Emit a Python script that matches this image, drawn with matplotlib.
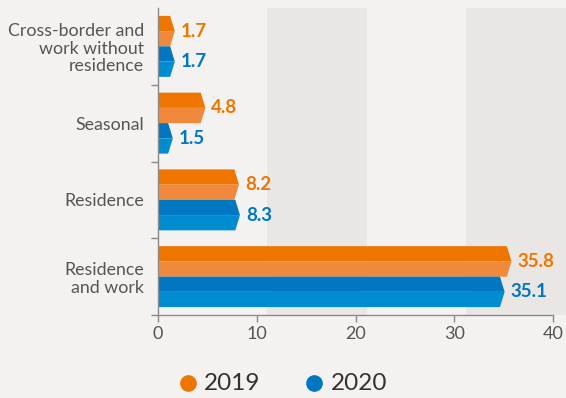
import numpy as np
import matplotlib.pyplot as plt
from matplotlib.lines import Line2D

plt.rcParams['font.family'] = ['Lato', 'DejaVu Sans']

categories = ["Cross-border and\nwork without\nresidence", "Seasonal",
              "Residence", "Residence\nand work"]
values_2019 = [1.7, 4.8, 8.2, 35.8]
values_2020 = [1.7, 1.5, 8.3, 35.1]
years = ["2019", "2020"]
x_ticks = [0, 10, 20, 30, 40]

BG = '#f3f2f0'
BAND = '#e9e6e3'
# (dark upper half, light lower half, label colour)
ORANGE = ('#ee7600', '#f1893c', '#ee7600')
BLUE = ('#0077c0', '#008cd0', '#0077c0')
TEXT = '#555555'
TIP = 0.47      # length of the pointed end, data units
HALF = 0.397    # height of one bar, in category units


def arrow_bar(ax, v, y_top, y_bot, colors):
    """Two-tone bar with a chevron tip at the value."""
    y_mid = (y_top + y_bot) / 2
    dark, light, _ = colors
    tip = min(TIP, v)
    ax.fill([0, v - tip, v, 0], [y_top, y_top, y_mid, y_mid],
            color=dark, lw=0, zorder=3)
    ax.fill([0, v, v - tip, 0], [y_mid, y_mid, y_bot, y_bot],
            color=light, lw=0, zorder=3)


fig = plt.figure(figsize=(5.66, 3.98), dpi=100, facecolor=BG)
ax = fig.add_axes([158 / 566, 1 - 315 / 398, 408 / 566, 307 / 398])
ax.set_facecolor(BG)

n = len(categories)
centers = np.arange(n)[::-1] + 0.5

for c, v19, v20 in zip(centers, values_2019, values_2020):
    arrow_bar(ax, v19, c + HALF, c, ORANGE)
    arrow_bar(ax, v20, c, c - HALF, BLUE)
    ax.text(v19 + 0.6, c + HALF / 2, f"{v19:.1f}", color=ORANGE[2],
            fontsize=13.5, fontweight='bold', va='center', ha='left', zorder=4)
    ax.text(v20 + 0.6, c - HALF / 2, f"{v20:.1f}", color=BLUE[2],
            fontsize=13.5, fontweight='bold', va='center', ha='left', zorder=4)

# alternating shaded bands behind the bars
ax.axvspan(11, 21.2, color=BAND, lw=0, zorder=0)
ax.axvspan(31.2, 42, color=BAND, lw=0, zorder=0)

ax.set_xlim(0, 408 / 9.875)
ax.set_ylim(0, n)
ax.set_xticks(x_ticks)
ax.set_xticklabels([str(t) for t in x_ticks])

ax.set_yticks(centers)
ax.set_yticklabels(categories, ha='right', linespacing=1.12)
ax.set_yticks(np.arange(n), minor=True)
ax.tick_params(axis='y', which='major', length=0, pad=10, labelsize=12.8,
               labelcolor=TEXT)
ax.tick_params(axis='y', which='minor', length=5, color='#8a8a8a', width=1)
ax.tick_params(axis='x', length=5, color='#8a8a8a', width=1, pad=3,
               labelsize=13, labelcolor=TEXT)

for s in ('top', 'right'):
    ax.spines[s].set_visible(False)
for s in ('left', 'bottom'):
    ax.spines[s].set_color('#8a8a8a')
    ax.spines[s].set_linewidth(1)
ax.spines['bottom'].set_bounds(0, 40)
ax.spines['left'].set_zorder(5)

# legend: coloured dot followed by the year
legend_y = 1 - 383 / 398
for (dot_x, text_x), year, col in zip([(188, 204), (314, 331)], years,
                                      [ORANGE[0], BLUE[0]]):
    fig.add_artist(Line2D([dot_x / 566], [legend_y], transform=fig.transFigure,
                          marker='o', ls='', color=col, markersize=11))
    fig.text(text_x / 566, legend_y, year, fontsize=17.5, color='#333333',
             va='center', ha='left')

fig.savefig('out.png', dpi=100, facecolor=BG)
